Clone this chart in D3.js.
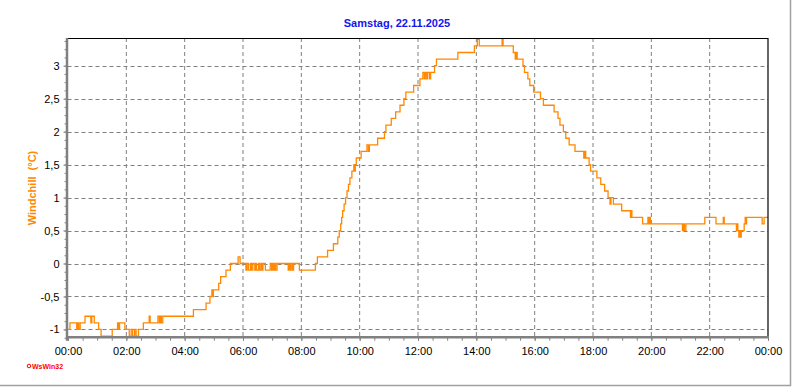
<!DOCTYPE html>
<html>
<head>
<meta charset="utf-8">
<script src="https://cdn.jsdelivr.net/npm/d3@7"></script>
<style>
  body { margin: 0; background: #fff; }
  svg { display: block; font-family: Arial, "Liberation Sans", sans-serif; }
</style>
</head>
<body>
<div id="chart"></div>
<script>
var svgWidth = 792;
var svgHeight = 387;

// plot box in pixels
var margin = { top: 38, right: 24, bottom: 50, left: 67.5 };
var width = 768 - margin.left;
var height = 336.7 - margin.top;

var title = "Samstag, 22.11.2025";
var yLabel = "Windchill  (°C)";

// step changes of the windchill curve (time of change, value from then on)
var times = [
  "00:00","00:04","00:18","00:20","00:22","00:25","00:35","00:47","00:49","00:54",
  "01:03","01:08","01:31","01:42","01:44","01:46","01:57","02:06","02:10","02:13",
  "02:17","02:20","02:25","02:35","02:47","02:49","03:05","03:08","03:10","03:12",
  "03:15","04:18","04:44","04:52","04:56","04:57","04:59","05:10","05:14","05:25",
  "05:34","05:50","05:54","06:06","06:08","06:11","06:15","06:17","06:19","06:23",
  "06:26","06:28","06:32","06:34","06:37","06:39","06:41","06:46","06:56","06:59",
  "07:01","07:03","07:05","07:07","07:10","07:33","07:35","07:37","07:39","07:42",
  "07:44","07:56","08:29","08:33","08:54","09:06","09:15","09:18","09:21","09:23",
  "09:25","09:28","09:31","09:34","09:37","09:40","09:44","09:48","09:50","09:51",
  "09:53","10:03","10:15","10:18","10:20","10:37","10:51","10:54","11:05","11:14",
  "11:23","11:31","11:35","11:51","12:04","12:10","12:13","12:15","12:18","12:20",
  "12:24","12:26","12:34","12:38","13:22","13:56","14:02","14:06","14:53","14:55",
  "15:16","15:20","15:22","15:24","15:36","15:39","15:46","15:50","15:58","16:12",
  "16:18","16:40","16:48","16:52","16:59","17:04","17:11","17:23","17:41","17:43",
  "17:45","17:52","17:55","18:08","18:16","18:24","18:31","18:35","18:37","18:42",
  "18:59","19:17","19:18","19:20","19:42","19:53","19:54","19:56","19:58","21:04",
  "21:06","21:08","21:11","21:50","22:13","22:28","22:30","22:55","22:57","22:58",
  "23:00","23:01","23:03","23:05","23:11","23:13","23:14","23:16","23:48","23:52",
  "24:00"
];
var windchill = [
  -1.0,-0.9,-1.0,-0.9,-1.0,-0.9,-0.8,-0.9,-0.8,-0.9,
  -1.0,-1.1,-1.0,-0.9,-1.0,-0.9,-1.0,-1.1,-1.0,-1.1,
  -1.0,-1.1,-1.0,-0.9,-0.8,-0.9,-0.8,-0.9,-0.8,-0.9,
  -0.8,-0.7,-0.6,-0.5,-0.4,-0.5,-0.4,-0.3,-0.2,-0.1,
  0.0,0.1,0.0,-0.1,0.0,-0.1,0.0,-0.1,0.0,-0.1,
  0.0,-0.1,0.0,-0.1,0.0,-0.1,0.0,-0.1,0.0,-0.1,
  0.0,-0.1,0.0,-0.1,0.0,-0.1,0.0,-0.1,0.0,-0.1,
  0.0,-0.1,0.0,0.1,0.2,0.3,0.4,0.5,0.6,0.7,
  0.8,0.9,1.0,1.1,1.2,1.3,1.4,1.5,1.4,1.5,
  1.6,1.7,1.8,1.7,1.8,1.9,2.0,2.1,2.2,2.3,
  2.4,2.5,2.6,2.7,2.8,2.9,2.8,2.9,2.8,2.9,
  2.8,2.9,3.0,3.1,3.2,3.3,3.4,3.3,3.4,3.3,
  3.2,3.1,3.2,3.1,3.0,2.9,2.8,2.7,2.6,2.5,
  2.4,2.3,2.2,2.1,2.0,1.9,1.8,1.7,1.6,1.7,
  1.6,1.5,1.4,1.3,1.2,1.1,1.0,0.9,1.0,0.9,
  0.8,0.7,0.8,0.7,0.6,0.7,0.6,0.7,0.6,0.5,
  0.6,0.5,0.6,0.7,0.6,0.7,0.6,0.5,0.6,0.5,
  0.4,0.5,0.4,0.5,0.6,0.7,0.6,0.7,0.6,0.7,
  0.7
];

var yTicks = [-1, -0.5, 0, 0.5, 1, 1.5, 2, 2.5, 3];
var xTicks = ["00:00","02:00","04:00","06:00","08:00","10:00","12:00","14:00","16:00","18:00","20:00","22:00","00:00"];

function toMinutes(s) {
  var p = s.split(":");
  return +p[0] * 60 + +p[1];
}

var data = times.map(function(t, i) {
  return { t: toMinutes(t), v: windchill[i] };
});

var de = d3.formatLocale({ decimal: ",", thousands: ".", grouping: [3], currency: ["", " €"], minus: "-" });
var fmt = de.format(".1~f");

var svg = d3.select("#chart")
  .append("svg")
  .attr("width", svgWidth)
  .attr("height", svgHeight);

var chartGroup = svg.append("g")
  .attr("transform", `translate(${margin.left}, ${margin.top})`);

var xScale = d3.scaleLinear().domain([0, 1440]).range([0.5, width]);
var yScale = d3.scaleLinear().domain([-1.11, 3.42]).range([height, 0]);

// dashed grid
chartGroup.append("g")
  .selectAll("line")
  .data(yTicks)
  .enter()
  .append("line")
  .attr("x1", 0)
  .attr("x2", width)
  .attr("y1", d => Math.round(yScale(d)) + 0.5 - margin.top % 1)
  .attr("y2", d => Math.round(yScale(d)) + 0.5 - margin.top % 1)
  .attr("stroke", "#808080")
  .attr("stroke-dasharray", "4,3");

chartGroup.append("g")
  .selectAll("line")
  .data(d3.range(120, 1440, 120))
  .enter()
  .append("line")
  .attr("x1", d => xScale(d))
  .attr("x2", d => xScale(d))
  .attr("y1", 0)
  .attr("y2", height)
  .attr("stroke", "#808080")
  .attr("stroke-dasharray", "4,3");

// windchill curve
chartGroup.append("clipPath")
  .attr("id", "plotClip")
  .append("rect")
  .attr("x", 0).attr("y", -1)
  .attr("width", width).attr("height", height + 1);

var line = d3.line()
  .x(d => xScale(d.t))
  .y(d => yScale(d.v))
  .curve(d3.curveStepAfter);

chartGroup.append("path")
  .datum(data)
  .attr("clip-path", "url(#plotClip)")
  .attr("fill", "none")
  .attr("stroke", "#ff8800")
  .attr("stroke-width", 1.3)
  .attr("d", line);

// top and right border
chartGroup.append("path")
  .attr("d", `M0,0.5H${width}V${height}`)
  .attr("fill", "none")
  .attr("stroke", "#000")
  .attr("stroke-width", 1.2);

// x axis: minor ticks every 30 min, labels every 2 h
var xMinor = d3.axisBottom(xScale)
  .tickValues(d3.range(0, 1441, 30))
  .tickSize(4)
  .tickSizeOuter(0)
  .tickFormat("");

var xMajor = d3.axisBottom(xScale)
  .tickValues(d3.range(0, 1441, 120))
  .tickSize(4)
  .tickSizeOuter(0)
  .tickPadding(6.5)
  .tickFormat((d, i) => xTicks[i]);

var gx = chartGroup.append("g")
  .attr("transform", `translate(0,${height})`)
  .call(xMinor);
var gx2 = chartGroup.append("g")
  .attr("transform", `translate(0,${height})`)
  .call(xMajor);

// y axis: minor ticks every 0.125, labels every 0.5
var yMinor = d3.axisLeft(yScale)
  .tickValues(d3.range(-1.125, 3.4, 0.125))
  .tickSize(3)
  .tickSizeOuter(0)
  .tickFormat("");

var yMajor = d3.axisLeft(yScale)
  .tickValues(yTicks)
  .tickSize(4)
  .tickSizeOuter(0)
  .tickPadding(4)
  .tickFormat(fmt);

var gy = chartGroup.append("g").call(yMinor);
var gy2 = chartGroup.append("g").call(yMajor);

[gx, gx2, gy, gy2].forEach(function(g) {
  g.selectAll(".tick line").attr("stroke", "#808080");
  g.selectAll(".tick text")
    .attr("fill", "#000")
    .style("font-size", "11px")
    .style("font-family", "Arial, 'Liberation Sans', sans-serif");
  g.select(".domain").attr("stroke", "none");
});

// thick grey axis lines
chartGroup.append("line")
  .attr("x1", -0.5).attr("x2", -0.5)
  .attr("y1", 0).attr("y2", height + 4)
  .attr("stroke", "#808080")
  .attr("stroke-width", 2.5);

chartGroup.append("line")
  .attr("x1", -1.5).attr("x2", width)
  .attr("y1", height + 0.5).attr("y2", height + 0.5)
  .attr("stroke", "#808080")
  .attr("stroke-width", 2.5);

// title
svg.append("text")
  .attr("x", 397)
  .attr("y", 27)
  .attr("text-anchor", "middle")
  .attr("fill", "#1414ee")
  .style("font-size", "11px")
  .style("font-weight", "bold")
  .text(title);

// y label
svg.append("text")
  .attr("transform", "translate(36,188) rotate(-90)")
  .attr("text-anchor", "middle")
  .attr("fill", "#ff8800")
  .style("font-size", "11px")
  .style("font-weight", "bold")
  .style("white-space", "pre")
  .text(yLabel);

// program mark
svg.append("circle")
  .attr("cx", 29).attr("cy", 366)
  .attr("r", 1.8)
  .attr("fill", "none")
  .attr("stroke", "#ff0000")
  .attr("stroke-width", 1);

svg.append("text")
  .attr("x", 32)
  .attr("y", 369)
  .attr("fill", "#ff0000")
  .style("font-size", "7px")
  .style("font-weight", "bold")
  .text("WsWin32");

// outer frame (right and bottom edge)
svg.append("path")
  .attr("d", "M790.5,0V385.5H0")
  .attr("fill", "none")
  .attr("stroke", "#a0a0a0")
  .attr("stroke-width", 1.5);
</script>
</body>
</html>
